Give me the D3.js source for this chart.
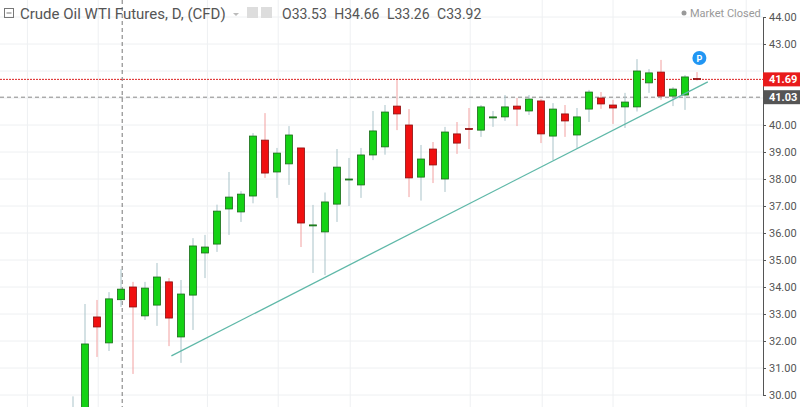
<!DOCTYPE html>
<html>
<head>
<meta charset="utf-8">
<script src="https://cdn.jsdelivr.net/npm/d3@7"></script>
<style>
  body { margin: 0; background: #fff; }
  svg { display: block; font-family: Roboto, "DejaVu Sans", sans-serif; }
</style>
</head>
<body>
<svg id="chart"></svg>
<script>
// daily candles, oldest first
const opens  = [29.0,29.5,32.89,31.93,33.53,34.0,32.93,33.33,34.19,32.15,33.70,35.26,35.59,36.89,36.78,37.37,39.44,38.26,38.56,39.15,36.30,36.04,37.07,38.0,37.78,38.89,39.19,40.70,40.0,38.07,39.11,38.0,39.67,39.87,39.81,40.28,40.30,40.70,40.52,40.89,39.59,40.41,39.63,40.59,41.0,40.74,40.67,40.67,41.56,41.96,41.07,41.11,41.72];
const highs  = [29.95,33.37,33.52,33.81,34.66,34.19,34.19,34.89,34.33,34.26,35.81,35.93,37.05,38.26,37.55,39.70,40.44,39.15,39.96,39.15,37.04,37.5,39.11,38.78,39.15,40.52,40.74,41.67,40.59,39.26,39.37,39.93,40.11,40.63,40.74,40.52,41.11,41.0,41.11,40.96,40.81,40.74,40.63,41.30,41.22,40.93,41.19,42.44,42.07,42.41,41.40,41.85,41.96];
const lows   = [28.8,29.0,31.41,31.63,33.26,30.78,32.78,32.56,31.81,31.19,32.41,34.33,35.30,35.93,36.41,37.10,38.04,37.30,37.78,35.48,34.52,34.44,36.41,37.0,37.30,38.70,38.90,39.81,37.33,37.20,37.85,37.52,38.93,39.11,39.56,39.93,40.15,39.96,40.37,39.33,38.70,39.56,39.15,40.11,40.60,40.04,39.89,40.50,41.19,40.93,40.70,40.56,41.65];
const closes = [29.4,31.89,32.52,33.56,33.92,33.26,33.96,34.37,32.85,33.74,35.52,35.48,36.81,37.33,37.44,39.59,38.22,38.96,39.63,36.37,36.30,37.15,38.44,38.0,38.89,39.78,40.48,40.41,38.04,38.74,38.52,39.74,39.33,39.85,40.67,40.30,40.67,40.59,40.96,39.67,40.59,40.15,40.30,41.22,40.78,40.63,40.85,42.0,41.93,41.07,41.33,41.78,41.69];

const priceTicks = [30,31,32,33,34,35,36,37,38,39,40,41,42,43,44];
const gridBars = [-3.8, 2.1, 11.2, 17.1, 23.1, 33.1, 39.1, 45.0, 56.1]; // vertical grid (bar index)
const trendLine = [[8.2, 31.45], [52.9, 41.6]];
const lastPrice = 41.69, refPrice = 41.03, cursorBar = 4.1;

const width = 800, height = 407, axisX = 763;

const svg = d3.select("#chart").attr("width", width).attr("height", height);

const x = d3.scaleLinear().domain([0, 1]).range([73, 85]);
const y = d3.scaleLinear().domain([44, 30]).range([17, 395]);

// grid
svg.append("g").selectAll("line").data(priceTicks).join("line")
  .attr("x1", 0).attr("x2", axisX).attr("y1", d => y(d)).attr("y2", d => y(d))
  .attr("stroke", "#eef0f2");
svg.append("g").selectAll("line").data(gridBars).join("line")
  .attr("x1", d => x(d)).attr("x2", d => x(d)).attr("y1", 0).attr("y2", height)
  .attr("stroke", "#eef0f2");

// crosshair
svg.append("line").attr("x1", x(cursorBar)).attr("x2", x(cursorBar)).attr("y1", 0).attr("y2", height)
  .attr("stroke", "#777").attr("stroke-dasharray", "4,3");

// price lines
svg.append("line").attr("x1", 0).attr("x2", axisX).attr("y1", y(refPrice)).attr("y2", y(refPrice))
  .attr("stroke", "#888").attr("stroke-dasharray", "4,3");
svg.append("line").attr("x1", 0).attr("x2", axisX).attr("y1", y(lastPrice)).attr("y2", y(lastPrice))
  .attr("stroke", "#d22").attr("stroke-dasharray", "2,1");

// candles
const bars = d3.range(opens.length).map(i => ({
  i, o: opens[i], h: highs[i], l: lows[i], c: closes[i]
}));
const cg = svg.append("g").selectAll("g").data(bars).join("g");
cg.append("line")
  .attr("x1", d => x(d.i)).attr("x2", d => x(d.i))
  .attr("y1", d => y(d.h)).attr("y2", d => y(d.l))
  .attr("stroke", d => d.c >= d.o ? "#a9c3c9" : "#f2a0a0");
cg.append("rect")
  .attr("x", d => x(d.i) - 3.5).attr("width", 7)
  .attr("y", d => y(Math.max(d.o, d.c)))
  .attr("height", d => Math.max(1, Math.abs(y(d.o) - y(d.c))))
  .attr("fill", d => d.c >= d.o ? "#14d214" : "#f01010")
  .attr("stroke", d => d.c >= d.o ? "#1a6a1a" : "#8a1010")
  .attr("stroke-width", 0.8);

// trend line
svg.append("path").datum(trendLine)
  .attr("d", d3.line().x(d => x(d[0])).y(d => y(d[1])))
  .attr("stroke", "#5fb8a8").attr("stroke-width", 1.3).attr("fill", "none");

// "P" marker
svg.append("circle").attr("cx", x(52.2)).attr("cy", 58).attr("r", 7).attr("fill", "#2196f3");
svg.append("text").attr("x", x(52.2)).attr("y", 61.5).attr("text-anchor", "middle")
  .attr("font-size", 9).attr("font-weight", 700).attr("fill", "#fff").text("P");

// right axis (tick labels hidden behind the price tags are dropped)
const tagged = [lastPrice, refPrice];
svg.append("rect").attr("x", axisX).attr("y", 0).attr("width", width - axisX).attr("height", height).attr("fill", "#fff");
const axis = svg.append("g").attr("transform", `translate(${axisX},0)`)
  .call(d3.axisRight(y).tickValues(priceTicks.filter(t => tagged.every(p => Math.abs(y(t) - y(p)) > 13)))
    .tickFormat(d3.format(".2f")).tickSize(3).tickPadding(3));
axis.select(".domain").attr("stroke", "#555");
axis.selectAll(".tick line").attr("stroke", "#555");
axis.selectAll("text").attr("font-size", 11).attr("fill", "#555")
  .attr("font-family", "Roboto, sans-serif");

// price tags
[[refPrice, "#555"], [lastPrice, "#e81b1b"]].forEach(([v, col]) => {
  svg.append("rect").attr("x", axisX).attr("y", y(v) - 7).attr("width", width - axisX).attr("height", 14).attr("fill", col);
  svg.append("text").attr("x", axisX + 6).attr("y", y(v) + 4).attr("font-size", 11)
    .attr("font-weight", 700).attr("fill", "#fff").text(v.toFixed(2));
});

// header
svg.append("rect").attr("x", 4.5).attr("y", 8.5).attr("width", 9).attr("height", 9)
  .attr("fill", "none").attr("stroke", "#777");
svg.append("line").attr("x1", 6.5).attr("x2", 11.5).attr("y1", 13).attr("y2", 13).attr("stroke", "#777");
svg.append("text").attr("x", 20).attr("y", 19).attr("font-size", 15).attr("fill", "#555")
  .text("Crude Oil WTI Futures, D, (CFD)");
svg.append("path").attr("d", "M233,13 l3,3 l3,-3z").attr("fill", "#bbb");
svg.append("rect").attr("x", 247).attr("y", 7).attr("width", 11).attr("height", 11).attr("fill", "#ddd");
svg.append("rect").attr("x", 261).attr("y", 7).attr("width", 11).attr("height", 11).attr("fill", "#ddd");
svg.append("text").attr("x", 282).attr("y", 19).attr("font-size", 14).attr("fill", "#555")
  .attr("word-spacing", 4).text("O33.53 H34.66 L33.26 C33.92");
svg.append("circle").attr("cx", 684).attr("cy", 13).attr("r", 2.5).attr("fill", "#999");
svg.append("text").attr("x", 690).attr("y", 17).attr("font-size", 11).attr("fill", "#999").text("Market Closed");
</script>
</body>
</html>
